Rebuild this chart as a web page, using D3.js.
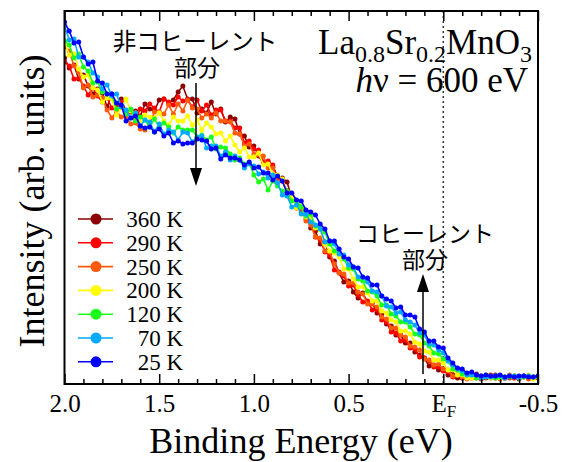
<!DOCTYPE html>
<html>
<head>
<meta charset="utf-8">
<script src="https://cdn.jsdelivr.net/npm/d3@7"></script>
<style>
  body { margin: 0; background: #fff; }
  svg { display: block; }
</style>
</head>
<body>
<svg width="567" height="462"></svg>
<script>
// binding energy grid (eV)
const energies = [2,1.975,1.95,1.925,1.9,1.875,1.85,1.825,1.8,1.775,1.75,1.725,1.7,1.675,1.65,1.625,1.6,1.575,1.55,1.525,
  1.5,1.475,1.45,1.425,1.4,1.375,1.35,1.325,1.3,1.275,1.25,1.225,1.2,1.175,1.15,1.125,1.1,1.075,1.05,1.025,
  1,0.975,0.95,0.925,0.9,0.875,0.85,0.825,0.8,0.775,0.75,0.725,0.7,0.675,0.65,0.625,0.6,0.575,0.55,0.525,
  0.5,0.475,0.45,0.425,0.4,0.375,0.35,0.325,0.3,0.275,0.25,0.225,0.2,0.175,0.15,0.125,0.1,0.075,0.05,0.025,
  0,-0.025,-0.05,-0.075,-0.1,-0.125,-0.15,-0.175,-0.2,-0.225,-0.25,-0.275,-0.3,-0.325,-0.35,-0.375,-0.4,-0.425,-0.45,-0.475,-0.5];

// intensities (arb. units)
const i360 = [326,316,319,305,309,298,290,295,291,277, 290,279,285,272,272,273,268,280,275,273,
  284,285,281,284,292,298,285,285,271,275, 271,282,270,275,262,267,265,250,248,237,
  238,228,221,222,217,207,206,202,186,183, 172,171,156,153,140,142,127,123,111,102,
  103,92,86,91,82,81,71,69,60,58, 49,49,41,41,32,29,26,18,19,14,
  15,9,10,6,6,7,6,10,5,6, 6,9,8,6,8,6,5,8,8,6,7];
const i290 = [322,318,305,306,298,289,296,288,282,286, 276,279,282,269,273,265,275,273,280,276,
  272,285,282,279,287,283,284,277,284,273, 279,269,274,274,263,263,256,256,241,243,
  235,234,222,223,219,206,203,193,190,176, 175,165,162,147,144,132,129,114,112,108,
  98,99,89,82,83,74,74,64,62,52, 51,43,44,36,35,27,26,23,17,17,
  13,12,7,9,6,6,7,6,8,8, 9,6,7,6,6,8,7,7,8,6,6];
const i250 = [337,333,318,312,296,299,287,289,286,274, 266,273,267,267,260,261,255,254,260,272,
  272,270,279,270,280,273,284,276,275,266, 270,266,271,263,263,262,251,250,238,240,
  230,229,228,216,216,202,203,192,188,176, 176,163,159,147,146,133,132,120,111,110,
  101,101,92,90,80,80,77,67,65,56, 56,49,47,38,37,34,25,24,19,20,
  15,14,8,9,7,5,7,7,6,8, 7,7,5,7,9,6,7,7,5,7,8];
const i200 = [343,329,330,315,307,309,296,294,282,286, 285,269,276,285,273,271,263,269,267,266,
  271,263,259,267,263,263,268,259,264,254, 261,257,250,251,243,248,239,232,236,227,
  227,231,219,220,210,209,205,189,187,176, 178,167,167,156,154,140,133,131,127,115,
  115,105,97,97,91,83,83,73,71,64, 62,53,53,50,42,40,33,32,24,24,
  21,14,14,9,9,6,6,8,6,7, 6,8,6,6,8,8,6,7,9,5,7];
const i120 = [343,339,326,330,317,313,301,302,292,290, 289,275,278,270,275,263,267,264,257,265,
  257,261,257,251,257,254,254,254,247,249, 244,247,235,237,236,230,224,226,220,221,
  209,202,205,194,203,198,193,193,183,183, 177,168,170,158,156,152,140,133,131,125,
  116,115,105,103,93,92,88,79,79,70, 68,62,62,57,50,49,41,38,31,30,
  25,23,15,14,10,9,9,6,7,9, 8,6,7,7,7,8,7,7,8,7,7];
const i70 = [358,344,345,327,327,322,311,307,295,299, 288,290,277,274,266,271,258,264,262,252,
  260,250,254,252,244,252,251,242,247,248, 236,238,238,228,232,224,228,224,216,220,
  218,210,212,206,209,201,189,188,177,179, 170,170,162,159,155,142,143,140,130,129,
  119,117,107,107,102,93,92,88,78,77, 71,72,64,62,59,51,49,40,39,34,
  31,23,19,15,13,9,9,9,6,7, 7,8,8,6,8,8,6,8,8,7,8];
const i25 = [362,353,341,342,327,320,322,303,301,290, 290,281,279,263,266,268,258,256,257,252,
  255,248,251,241,243,240,241,241,245,244, 243,235,236,225,229,226,226,224,219,222,
  216,217,211,211,204,208,203,191,191,184, 183,174,172,169,160,155,143,143,135,127,
  125,117,116,107,106,99,99,88,85,83, 76,77,69,69,67,55,52,43,43,37,
  36,26,21,16,15,11,12,9,8,9, 8,8,9,7,8,7,8,8,7,7,8];

const temps = ['360 K', '290 K', '250 K', '200 K', '120 K', '70 K', '25 K'];
const colors = ['#8b0000', '#ff0000', '#ff5a0a', '#ffff00', '#1aff1a', '#00aaff', '#0000ff'];
const spectra = [i360, i290, i250, i200, i120, i70, i25];

const tickValues = [2.0, 1.5, 1.0, 0.5, 0, -0.5];
const tickLabels = ['2.0', '1.5', '1.0', '0.5', 'E', '-0.5'];
const minorValues = [1.9,1.8,1.7,1.6,1.4,1.3,1.2,1.1,0.9,0.8,0.7,0.6,0.4,0.3,0.2,0.1,-0.1,-0.2,-0.3,-0.4];

const serif = 'Liberation Serif';
const jp = 'Noto Sans CJK JP';

const svg = d3.select('svg');
const plotLeft = 64.5, plotRight = 538, plotTop = 11, plotBottom = 384;

const x = d3.scaleLinear().domain([2.0, -0.5]).range([plotLeft, plotRight]);
const y = d3.scaleLinear().domain([0, 373]).range([plotBottom, plotTop]);

svg.append('clipPath').attr('id', 'plot')
  .append('rect').attr('x', plotLeft).attr('y', plotTop).attr('width', plotRight - plotLeft).attr('height', plotBottom - plotTop);

// Fermi level
svg.append('line')
  .attr('x1', x(0)).attr('x2', x(0)).attr('y1', plotTop).attr('y2', plotBottom)
  .attr('stroke', '#333').attr('stroke-width', 1.5).attr('stroke-dasharray', '2,3');

const line = d3.line().x((d, i) => x(energies[i])).y(d => y(d));

const g = svg.append('g').attr('clip-path', 'url(#plot)');

spectra.forEach((vals, k) => {
  const s = g.append('g');
  s.append('path')
    .datum(vals)
    .attr('d', line)
    .attr('fill', 'none')
    .attr('stroke', colors[k])
    .attr('stroke-width', 1.6);
  s.selectAll('circle')
    .data(vals)
    .join('circle')
    .attr('cx', (d, i) => x(energies[i]))
    .attr('cy', d => y(d))
    .attr('r', 2.5)
    .attr('fill', colors[k]);
});

// axes
const bottomAxis = d3.axisBottom(x).tickValues(tickValues).tickSizeInner(-10).tickSizeOuter(0).tickPadding(10)
  .tickFormat((d, i) => tickLabels[i]);
const ax = svg.append('g').attr('transform', `translate(0,${plotBottom})`).call(bottomAxis);
ax.attr('font-family', serif).attr('font-size', 25);
ax.select('.domain').remove();
ax.selectAll('line').attr('stroke', '#000').attr('stroke-width', 1.5);
ax.selectAll('text').attr('fill', '#000');
ax.selectAll('text').filter(d => d === 0).append('tspan')
  .attr('dy', '0.3em').attr('font-size', 17).text('F');

const minorAxis = d3.axisBottom(x).tickValues(minorValues).tickSizeInner(-5).tickSizeOuter(0).tickFormat('');
const mx = svg.append('g').attr('transform', `translate(0,${plotBottom})`).call(minorAxis);
mx.select('.domain').remove();
mx.selectAll('line').attr('stroke', '#000').attr('stroke-width', 1.5);

const topAxis = d3.axisTop(x).tickValues(tickValues).tickSizeInner(-10).tickSizeOuter(0).tickFormat('');
const tx = svg.append('g').attr('transform', `translate(0,${plotTop})`).call(topAxis);
tx.select('.domain').remove();
tx.selectAll('line').attr('stroke', '#000').attr('stroke-width', 1.5);

const topMinor = d3.axisTop(x).tickValues(minorValues).tickSizeInner(-5).tickSizeOuter(0).tickFormat('');
const tm = svg.append('g').attr('transform', `translate(0,${plotTop})`).call(topMinor);
tm.select('.domain').remove();
tm.selectAll('line').attr('stroke', '#000').attr('stroke-width', 1.5);

// frame
svg.append('rect')
  .attr('x', plotLeft).attr('y', plotTop).attr('width', plotRight - plotLeft).attr('height', plotBottom - plotTop)
  .attr('fill', 'none').attr('stroke', '#000').attr('stroke-width', 2);

// axis titles
svg.append('text')
  .attr('x', 301).attr('y', 453)
  .attr('text-anchor', 'middle')
  .attr('font-family', serif).attr('font-size', 36)
  .text('Binding Energy (eV)');

svg.append('text')
  .attr('transform', 'translate(44,201) rotate(-90)')
  .attr('text-anchor', 'middle')
  .attr('font-family', serif).attr('font-size', 36)
  .text('Intensity (arb. units)');

// compound + photon energy
const title = svg.append('text')
  .attr('x', 532).attr('y', 54)
  .attr('text-anchor', 'end')
  .attr('font-family', serif).attr('font-size', 35);
title.append('tspan').text('La');
title.append('tspan').attr('dy', 8).attr('font-size', 24).text('0.8');
title.append('tspan').attr('dy', -8).text('Sr');
title.append('tspan').attr('dy', 8).attr('font-size', 24).text('0.2');
title.append('tspan').attr('dy', -8).text('MnO');
title.append('tspan').attr('dy', 8).attr('font-size', 24).text('3');

const hv = svg.append('text')
  .attr('x', 528).attr('y', 92)
  .attr('text-anchor', 'end')
  .attr('font-family', serif).attr('font-size', 35);
hv.append('tspan').attr('font-style', 'italic').text('h');
hv.append('tspan').text('ν = 600 eV');

// annotations
svg.append('text').attr('x', 195).attr('y', 50).attr('text-anchor', 'middle')
  .attr('font-family', jp).attr('font-size', 23.5).text('非コヒーレント');
svg.append('text').attr('x', 197).attr('y', 76).attr('text-anchor', 'middle')
  .attr('font-family', jp).attr('font-size', 23).text('部分');
svg.append('text').attr('x', 425).attr('y', 242).attr('text-anchor', 'middle')
  .attr('font-family', jp).attr('font-size', 23).text('コヒーレント');
svg.append('text').attr('x', 425).attr('y', 268).attr('text-anchor', 'middle')
  .attr('font-family', jp).attr('font-size', 23).text('部分');

// arrows
svg.append('line').attr('x1', 196).attr('x2', 196).attr('y1', 83).attr('y2', 170)
  .attr('stroke', '#000').attr('stroke-width', 1.5);
svg.append('path').attr('d', 'M190,168 L202,168 L196,186 Z').attr('fill', '#000');
svg.append('line').attr('x1', 423).attr('x2', 423).attr('y1', 374).attr('y2', 290)
  .attr('stroke', '#000').attr('stroke-width', 1.5);
svg.append('path').attr('d', 'M417,292 L429,292 L423,274 Z').attr('fill', '#000');

// legend
const legend = svg.append('g');
temps.forEach((t, k) => {
  const ly = 219 + k * 23.8;
  legend.append('line').attr('x1', 78).attr('x2', 113).attr('y1', ly).attr('y2', ly)
    .attr('stroke', colors[k]).attr('stroke-width', 1.6);
  legend.append('circle').attr('cx', 96).attr('cy', ly).attr('r', 5.5).attr('fill', colors[k]);
  legend.append('text').attr('x', 183).attr('y', ly + 8).attr('text-anchor', 'end')
    .attr('font-family', serif).attr('font-size', 23).text(t);
});
</script>
</body>
</html>
